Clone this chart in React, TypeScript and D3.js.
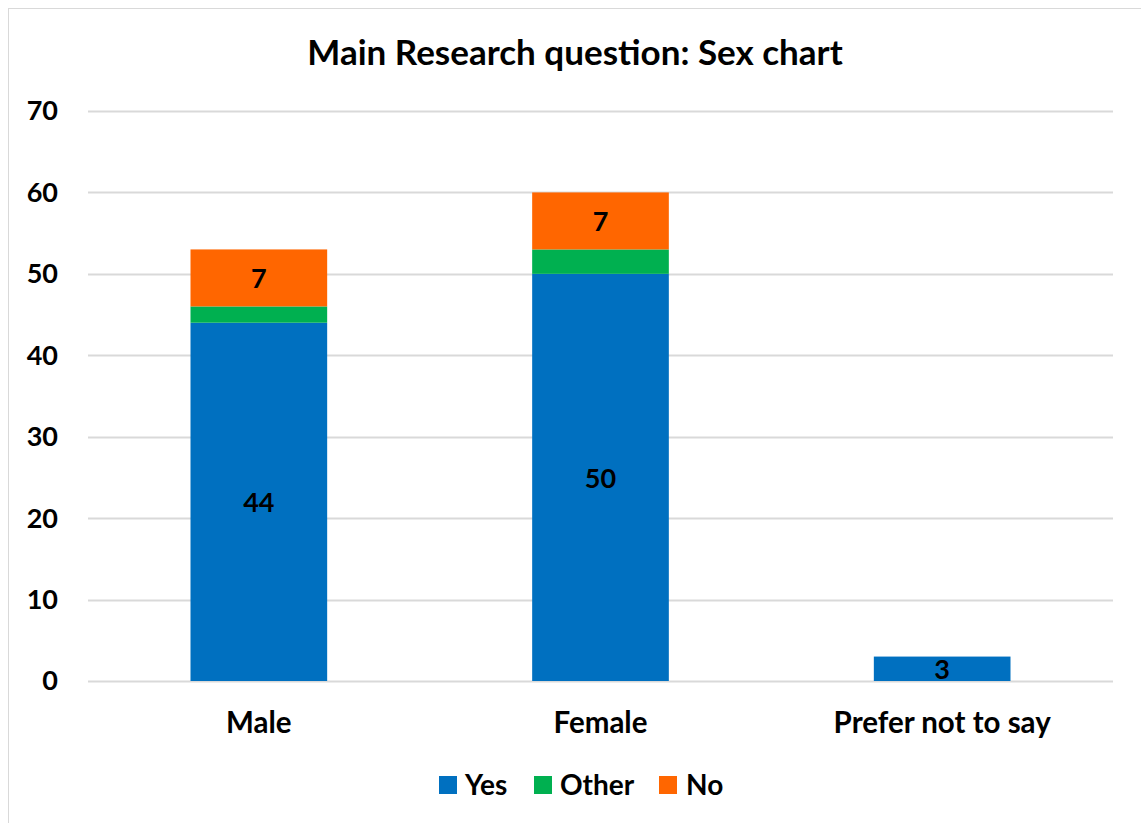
import React from "react";
import * as d3 from "d3";

const categories = ["Male", "Female", "Prefer not to say"];
const seriesNames = ["Yes", "Other", "No"];
const yesValues = [44, 50, 3];
const otherValues = [2, 3, 0];
const noValues = [7, 7, 0];
const seriesColors = ["#0070C0", "#00B050", "#FF6600"];
const yTicks = [0, 10, 20, 30, 40, 50, 60, 70];
const labelledSeries = ["Yes", "No"];

const W = 1141;
const H = 823;
const FONT = "Lato, 'Open Sans', sans-serif";

export default function App() {
  const margin = { left: 88, right: 28, top: 111, bottom: 142 };
  const x = d3
    .scaleBand<string>()
    .domain(categories)
    .range([margin.left, W - margin.right])
    .paddingInner(0.6)
    .paddingOuter(0.3);
  const y = d3.scaleLinear().domain([0, 70]).range([H - margin.bottom, margin.top]);

  const rows = categories.map((c, i) => ({
    category: c,
    Yes: yesValues[i],
    Other: otherValues[i],
    No: noValues[i],
  }));
  const stacked = d3.stack<any>().keys(seriesNames)(rows);

  // legend swatch / label positions
  const legendItems = [
    { name: "Yes", sx: 439, tx: 465 },
    { name: "Other", sx: 534, tx: 560 },
    { name: "No", sx: 659, tx: 686 },
  ];

  return (
    <svg
      width={W}
      height={H}
      style={{ position: "absolute", left: 0, top: 0, background: "#fff" }}
      fontFamily={FONT}
    >
      <rect x={8.5} y={8.5} width={W} height={H} fill="#fff" stroke="#d9d9d9" strokeWidth={1} />
      <text x={575} y={53} dy="0.35em" textAnchor="middle" fontSize={35} fontWeight="bold" fill="#000">
        Main Research question: Sex chart
      </text>
      {yTicks.map((t) => (
        <g key={t}>
          <line
            x1={margin.left}
            x2={W - margin.right}
            y1={Math.round(y(t)) + 0.5}
            y2={Math.round(y(t)) + 0.5}
            stroke="#d9d9d9"
            strokeWidth={2}
          />
          <text
            x={58}
            y={y(t)}
            dy="0.35em"
            textAnchor="end"
            fontSize={27}
            fontWeight="bold"
            fill="#000"
          >
            {t}
          </text>
        </g>
      ))}
      {stacked.map((s, si) => (
        <g key={s.key} fill={seriesColors[si]}>
          {s.map((d, i) =>
            d[1] - d[0] > 0 ? (
              <rect
                key={i}
                x={x(categories[i])}
                width={x.bandwidth()}
                y={y(d[1])}
                height={y(d[0]) - y(d[1])}
              />
            ) : null
          )}
        </g>
      ))}
      {stacked
        .filter((s) => labelledSeries.includes(s.key))
        .map((s) =>
          s.map((d, i) =>
            d[1] - d[0] > 0 ? (
              <text
                key={s.key + i}
                x={(x(categories[i]) as number) + x.bandwidth() / 2}
                y={(y(d[0]) + y(d[1])) / 2 + 1}
                dy="0.35em"
                textAnchor="middle"
                fontSize={27}
                fontWeight="bold"
                fill="#000"
              >
                {d[1] - d[0]}
              </text>
            ) : null
          )
        )}
      {categories.map((c) => (
        <text
          key={c}
          x={(x(c) as number) + x.bandwidth() / 2}
          y={722.5}
          dy="0.35em"
          textAnchor="middle"
          fontSize={29.5}
          fontWeight="bold"
          fill="#000"
        >
          {c}
        </text>
      ))}
      {legendItems.map((l, i) => (
        <g key={l.name}>
          <rect x={l.sx} y={776} width={18} height={18} fill={seriesColors[i]} />
          <text x={l.tx} y={785} dy="0.35em" fontSize={28} fontWeight="bold" fill="#000">
            {l.name}
          </text>
        </g>
      ))}
    </svg>
  );
}
